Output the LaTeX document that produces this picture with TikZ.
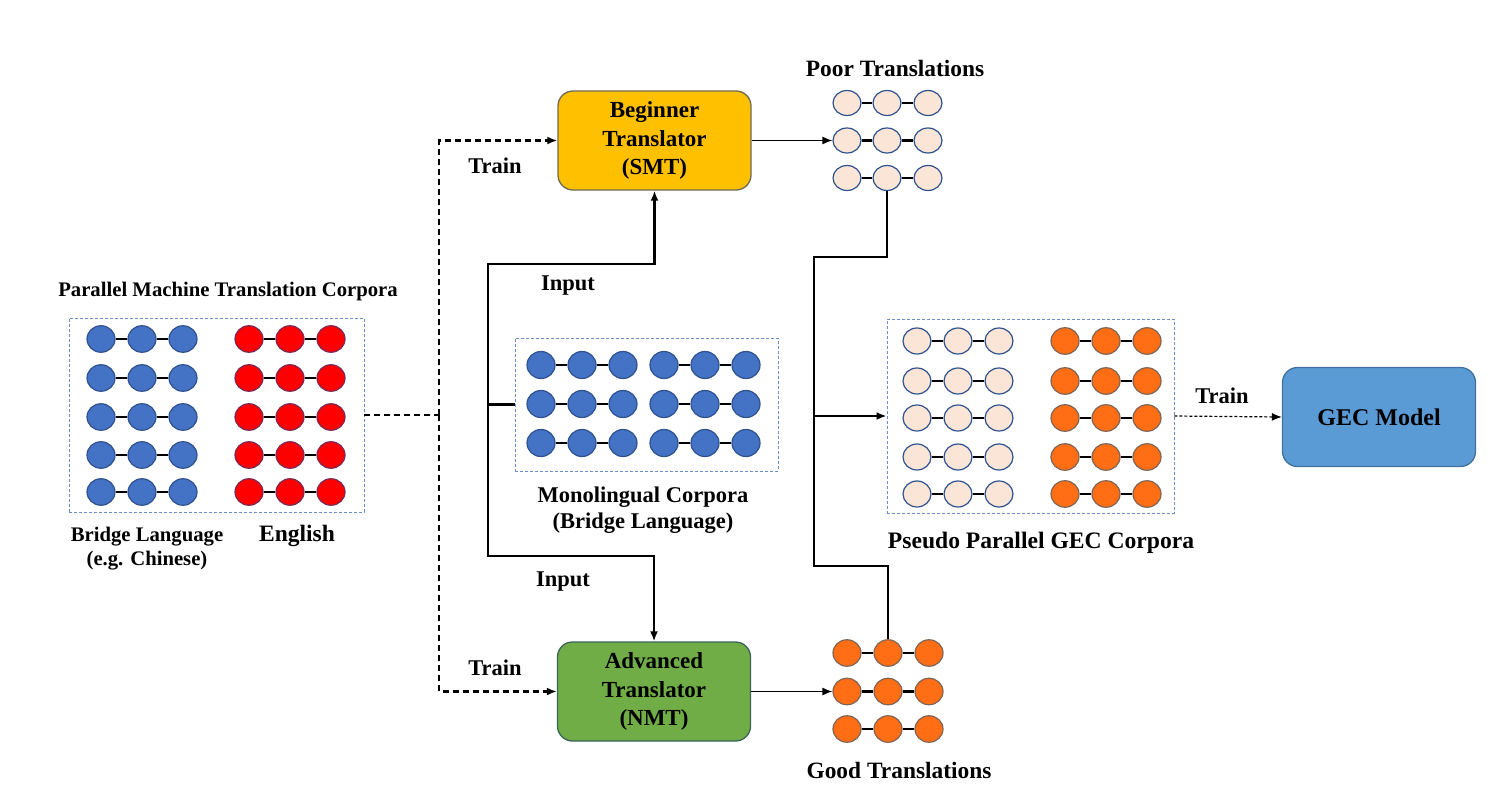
\documentclass[tikz,border=0pt]{standalone}
\usepackage{fontspec}
\setmainfont{Liberation Serif}
\usetikzlibrary{shapes.geometric,arrows.meta}
\definecolor{tokblue}{HTML}{4472C4}
\definecolor{tokblueline}{HTML}{2F528F}
\definecolor{tokred}{HTML}{FF0000}
\definecolor{tokredline}{HTML}{7A2A55}
\definecolor{tokpoor}{HTML}{FBE5D6}
\definecolor{tokgood}{HTML}{FF6D14}
\definecolor{tokgoodline}{HTML}{7F6555}
\definecolor{smtfill}{HTML}{FFC000}
\definecolor{smtline}{HTML}{6E6A55}
\definecolor{nmtfill}{HTML}{70AD47}
\definecolor{nmtline}{HTML}{3B6459}
\definecolor{gecfill}{HTML}{5B9BD5}
\definecolor{gecline}{HTML}{41719C}
\definecolor{corpusline}{HTML}{6A8CC8}

\begin{document}
\begin{tikzpicture}[x=1pt,y=1pt,yscale=-1,
  tok/.style={ellipse,draw,line width=1.2pt,minimum width=28pt,minimum height=26.5pt,inner sep=0pt},
  bluetok/.style={tok,fill=tokblue,draw=tokblueline},
  redtok/.style={tok,fill=tokred,draw=tokredline},
  poortok/.style={tok,fill=tokpoor,draw=tokblueline,minimum height=25pt},
  goodtok/.style={tok,fill=tokgood,draw=tokgoodline},
  link/.style={line width=2.3pt},
  corpus/.style={draw=corpusline,densely dashed,line width=0.9pt,inner sep=0pt},
  model/.style={draw,rounded corners=15pt,line width=1.3pt,minimum width=193pt,minimum height=99pt,align=center,font=\fontsize{23}{28.5}\selectfont\bfseries},
  lbl/.style={font=\fontsize{22.5}{26}\selectfont\bfseries,align=center,inner sep=0pt},
  wire/.style={line width=2.4pt},
  trainline/.style={line width=2.2pt,dash pattern=on 6pt off 4pt},
  tip/.style={-{Latex[length=10pt,width=8pt]}}
]
\useasboundingbox (0,0) rectangle (1512,811);

%Corpus boxes
\node[corpus,minimum width=295pt,minimum height=194pt] (pmt) at (216.5,415) {};
\node[corpus,minimum width=263pt,minimum height=133pt] (mono) at (646.5,404.5) {};
\node[corpus,minimum width=287pt,minimum height=194pt] (pseudo) at (1030.5,416) {};

%Translators and GEC model
\node[model,fill=smtfill,draw=smtline] (smt) at (654.5,140.5) {Beginner\\Translator\\(SMT)};
\node[model,fill=nmtfill,draw=nmtline] (nmt) at (654,691.5) {Advanced\\Translator\\(NMT)};
\node[model,fill=gecfill,draw=gecline,font=\fontsize{24}{28}\selectfont\bfseries] (gec) at (1379,417) {GEC Model};

%Parallel corpora tokens
\foreach \r/\y in {1/339,2/378,3/417,4/455,5/492} {
  \foreach \c/\x in {1/101,2/142,3/183} \node[bluetok] (pb-\r-\c) at (\x,\y) {};
  \foreach \c/\x in {1/249,2/290,3/331} \node[redtok] (pr-\r-\c) at (\x,\y) {};
  \draw[link] (pb-\r-1) -- (pb-\r-2) (pb-\r-2) -- (pb-\r-3);
  \draw[link] (pr-\r-1) -- (pr-\r-2) (pr-\r-2) -- (pr-\r-3);
}

%Monolingual tokens
\foreach \r/\y in {1/365,2/404,3/443} {
  \foreach \c/\x in {1/541,2/582,3/623} \node[bluetok,minimum height=27pt] (ma-\r-\c) at (\x,\y) {};
  \foreach \c/\x in {1/664,2/705,3/746} \node[bluetok,minimum height=27pt] (mb-\r-\c) at (\x,\y) {};
  \draw[link] (ma-\r-1) -- (ma-\r-2) (ma-\r-2) -- (ma-\r-3);
  \draw[link] (mb-\r-1) -- (mb-\r-2) (mb-\r-2) -- (mb-\r-3);
}

%Poor and good translations
\foreach \r/\y in {1/103,2/140.5,3/178} {
  \foreach \c/\x in {1/847,2/887,3/928} \node[poortok] (poor-\r-\c) at (\x,\y) {};
  \draw[link] (poor-\r-1) -- (poor-\r-2) (poor-\r-2) -- (poor-\r-3);
}
\foreach \r/\y in {1/653,2/691.5,3/729} {
  \foreach \c/\x in {1/847,2/888,3/929} \node[goodtok] (good-\r-\c) at (\x,\y) {};
  \draw[link] (good-\r-1) -- (good-\r-2) (good-\r-2) -- (good-\r-3);
}

%Pseudo parallel tokens
\foreach \r/\y in {1/341,2/381,3/418,4/457,5/494} {
  \foreach \c/\x in {1/917,2/958,3/999} \node[poortok,minimum height=26pt] (sp-\r-\c) at (\x,\y) {};
  \foreach \c/\x in {1/1065,2/1106,3/1147} \node[goodtok] (sg-\r-\c) at (\x,\y) {};
  \draw[link] (sp-\r-1) -- (sp-\r-2) (sp-\r-2) -- (sp-\r-3);
  \draw[link] (sg-\r-1) -- (sg-\r-2) (sg-\r-2) -- (sg-\r-3);
}

%Train (dashed) connectors
\coordinate (split) at (439,415);
\draw[trainline] (pmt.east) -- (split);
\draw[trainline,tip] (split) |- (smt.west);
\draw[trainline,tip] (split) |- (nmt.west);
\draw[line width=1.2pt,dash pattern=on 3pt off 2pt,tip] (pseudo.east) -- (gec.west);

%Input connectors
\coordinate (fork) at (488,404.5);
\coordinate (inTop) at (488,264);
\coordinate (inBot) at (488,556);
\draw[wire] (mono.west) -- (fork);
\draw[wire,tip] (fork) -- (inTop) -| (smt.south);
\draw[wire,tip] (fork) -- (inBot) -| (nmt.north);

%Translation outputs
\draw[line width=1.3pt,tip] (smt.east) -- (poor-2-1.west);
\draw[line width=1.3pt,tip] (nmt.east) -- (good-2-1.west);

%Merge into pseudo corpora
\coordinate (mergeTop) at (814,257);
\coordinate (mergeMid) at (814,416);
\coordinate (mergeBot) at (814,566);
\draw[wire] (poor-3-2.south) |- (mergeTop) -- (mergeBot) -| (good-1-2.north);
\draw[wire,tip] (mergeMid) -- (pseudo.west);

% Text Node
\node[lbl,font=\fontsize{20.7}{24}\selectfont\bfseries] (pmtlbl) at (228,292) {Parallel Machine Translation Corpora};
\node[lbl,font=\fontsize{20.7}{24}\selectfont\bfseries] (bridgelbl) at (147,549) {Bridge Language\\(e.g. Chinese)};
\node[lbl,font=\fontsize{23.5}{26}\selectfont\bfseries] (englbl) at (297,536) {English};
\node[lbl] (trainA) at (495,166) {Train};
\node[lbl] (trainB) at (495,668) {Train};
\node[lbl] (inputA) at (568,286) {Input};
\node[lbl] (inputB) at (563,582) {Input};
\node[lbl] (monolbl) at (643,510) {Monolingual Corpora\\(Bridge Language)};
\node[lbl,font=\fontsize{23.4}{26}\selectfont\bfseries] (poorlbl) at (895,68) {Poor Translations};
\node[lbl,font=\fontsize{23.4}{26}\selectfont\bfseries] (goodlbl) at (899,770) {Good Translations};
\node[lbl,font=\fontsize{23.6}{26}\selectfont\bfseries] (pseudolbl) at (1041,543) {Pseudo Parallel GEC Corpora};
\node[lbl] (trainC) at (1222,396) {Train};

\end{tikzpicture}
\end{document}
